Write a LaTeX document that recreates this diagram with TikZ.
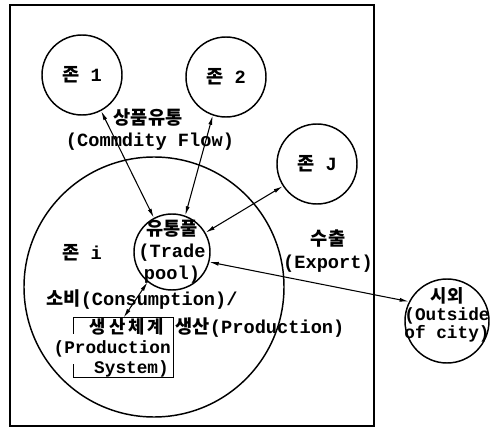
\documentclass[tikz,border=0pt]{standalone}
\usepackage{fontspec}
\setmainfont{Liberation Mono}
\newfontfamily\korfont{Noto Sans CJK KR}
\usetikzlibrary{arrows.meta,calc}
\newcommand\ko[1]{{\korfont #1}}
\tikzset{
  zone/.style={circle,draw,line width=1.1pt,minimum size=60pt,inner sep=0pt},
  lbl/.style={font=\fontsize{14}{16}\selectfont\bfseries,inner sep=0pt,align=center},
  flow/.style={{Latex[length=7pt,width=3pt]}-{Latex[length=7pt,width=3pt]},line width=0.8pt},
}
\begin{document}
\begin{tikzpicture}[x=0.75pt,y=-0.75pt]
\useasboundingbox (0,0) rectangle (497,428);
% frame
\draw[line width=1.1pt] (10,5) rectangle (374,426);
% circles
\node[zone] (z1) at (82,75) {};
\node[zone] (z2) at (226,77) {};
\node[zone] (zj) at (317,164) {};
\node[zone,minimum size=195pt] (zi) at (154,287) {};
\node[zone,minimum size=57pt] (tp) at (172,252) {};
\node[zone,minimum size=63pt] (out) at (447,321) {};
% production system box
\node[minimum width=74.25pt,minimum height=44.25pt,inner sep=0pt] (ps) at (123.5,347.5) {};
\draw[line width=1pt] ($(ps.north west)+(0,16)$) -- (ps.north west) -- (ps.north east)
  -- (ps.south east) -- (ps.south west) -- ++(0,-13);
% texts
\node[lbl] (z1t) at (z1) {\ko{존} 1};
\node[lbl] (z2t) at (z2) {\ko{존} 2};
\node[lbl] (zjt) at (zj) {\ko{존} J};
\node[lbl] (flowk) at (148,118) {\ko{상품유통}};
\node[lbl] (flowe) at (150,142) {(Commdity Flow)};
\node[lbl] (zit) at (82,253) {\ko{존} i};
\node[lbl,font=\fontsize{14}{16.5}\selectfont\bfseries] (tpt) at (172,252) {\ko{유통풀}\\(Trade\\pool)};
\node[lbl] (expk) at (328,239) {\ko{수출}};
\node[lbl] (expe) at (328,264) {(Export)};
\node[lbl] (cons) at (142,300) {\ko{소비}(Consumption)/};
\node[lbl] (prod) at (260,328) {\ko{생산}(Production)};
\node[lbl,align=right,anchor=east,font=\fontsize{13.3}{15}\selectfont\bfseries] (pst) at (171,348) {\ko{생\,산\,체\,계}\hspace*{5pt}\\(Production\\System)\hspace*{1.5pt}};
\node[lbl,font=\fontsize{13.3}{13.5}\selectfont\bfseries] (outt) at (447,315) {\ko{시외}\\(Outside\\of city)};
% flows
\draw[flow] (z1.298) -- (tp.118);
\draw[flow] (z2.251) -- (tp.70);
\draw[flow] (zj.213) -- (tp.30);
\draw[flow] (tp.-15) -- (out.153);
\draw[flow] (tp.231) -- (ps.north);
\end{tikzpicture}
\end{document}
